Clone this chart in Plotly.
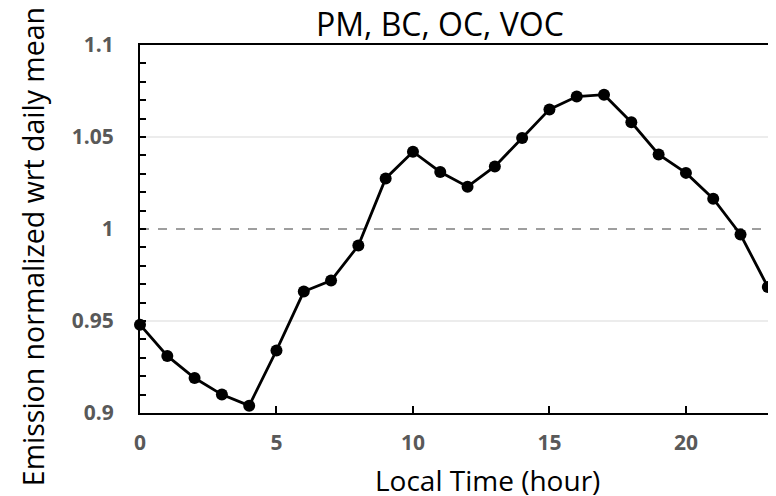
import plotly.graph_objects as go

hours = list(range(24))
emission = [0.948, 0.931, 0.919, 0.910, 0.904, 0.934, 0.966, 0.972, 0.991, 1.0275,
            1.042, 1.031, 1.023, 1.034, 1.0495, 1.065, 1.072, 1.073, 1.058, 1.0405,
            1.0305, 1.0165, 0.997, 0.9685]
grid_levels = [0.95, 1.05]
ref_level = 1.0
x_ticks = [0, 5, 10, 15, 20]
y_ticks = [0.9, 0.95, 1.0, 1.05, 1.1]
y_tick_text = ["0.9", "0.95", "1", "1.05", "1.1"]

FONT = "Open Sans"

fig = go.Figure()
fig.add_trace(go.Scatter(
    x=hours, y=emission, mode="lines+markers",
    line=dict(color="black", width=2.8),
    marker=dict(color="black", size=12),
    cliponaxis=False, showlegend=False,
))

shapes = []
for g in grid_levels:
    shapes.append(dict(type="line", xref="paper", x0=0, x1=1, yref="y", y0=g, y1=g,
                       line=dict(color="#d9d9d9", width=1), layer="below"))
shapes.append(dict(type="line", xref="paper", x0=0, x1=1, yref="y", y0=ref_level, y1=ref_level,
                   line=dict(color="#7f7f7f", width=1.3, dash="dash"), layer="below"))

annotations = [
    dict(text="PM, BC, OC, VOC", xref="paper", yref="paper", x=0.4717, y=1.058,
         xanchor="center", yanchor="middle", showarrow=False,
         font=dict(family=FONT, size=32, color="black")),
    dict(text="Local Time (hour)", xref="paper", yref="paper", x=0.5456, y=-0.181,
         xanchor="center", yanchor="middle", showarrow=False,
         font=dict(family=FONT, size=28, color="black")),
    dict(text="Emission normalized wrt daily mean", xref="paper", yref="paper", x=-0.168, y=0.451,
         xanchor="center", yanchor="middle", showarrow=False, textangle=-90,
         font=dict(family=FONT, size=28.5, color="black")),
]

fig.update_layout(
    width=768, height=488,
    margin=dict(l=132, r=0, t=37, b=83, autoexpand=False),
    paper_bgcolor="white", plot_bgcolor="white",
    shapes=shapes,
    annotations=annotations,
    xaxis=dict(
        range=[0, 23.3], tickvals=x_ticks, ticks="inside", ticklen=7, tickwidth=1.5,
        tickcolor="black", showline=True, linecolor="black", linewidth=2, mirror=True,
        showgrid=False, zeroline=False, automargin=False,
        tickfont=dict(family=FONT, size=21, color="#595959", weight="bold"),
        ticklabelstandoff=10,
    ),
    yaxis=dict(
        range=[0.9, 1.1], tickvals=y_ticks, ticktext=y_tick_text, ticks="inside", ticklen=6,
        tickwidth=1.5, tickcolor="black", showline=True, linecolor="black", linewidth=2,
        showgrid=False, zeroline=False, automargin=False,
        minor=dict(dtick=0.01, ticks="inside", ticklen=6, tickwidth=1.5, tickcolor="black", showgrid=False),
        tickfont=dict(family=FONT, size=21, color="#595959", weight="bold"),
        ticklabelstandoff=20,
    ),
)

fig.write_html("out.html")
